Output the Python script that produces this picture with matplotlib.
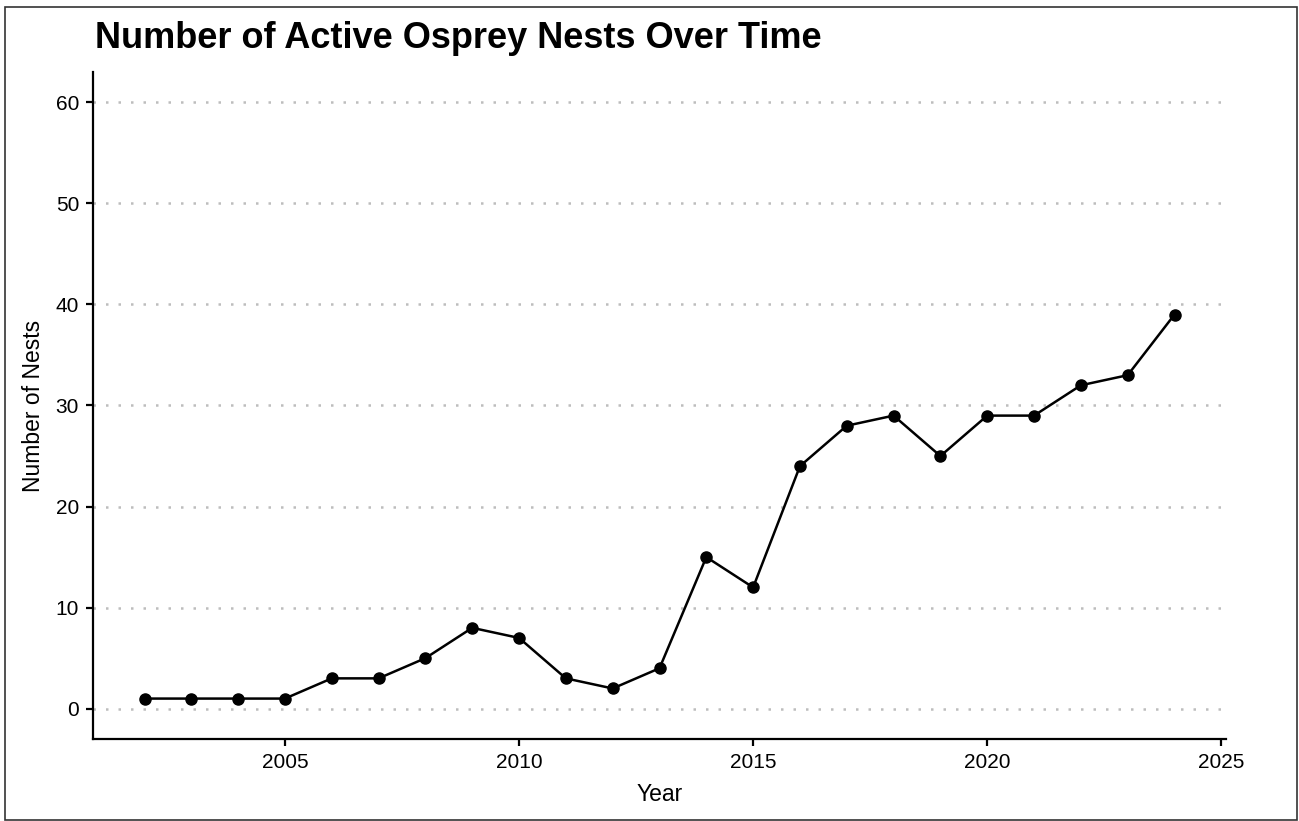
import matplotlib
matplotlib.use('Agg')
import matplotlib.pyplot as plt
from matplotlib.patches import Rectangle

# data
years = [2002, 2003, 2004, 2005, 2006, 2007, 2008, 2009, 2010, 2011, 2012, 2013,
         2014, 2015, 2016, 2017, 2018, 2019, 2020, 2021, 2022, 2023, 2024]
nests = [1, 1, 1, 1, 3, 3, 5, 8, 7, 3, 2, 4,
         15, 12, 24, 28, 29, 25, 29, 29, 32, 33, 39]
yticks = [0, 10, 20, 30, 40, 50, 60]
xticks = [2005, 2010, 2015, 2020, 2025]

plt.rcParams['font.family'] = ['Liberation Sans', 'DejaVu Sans']

fig = plt.figure(figsize=(12.99, 8.21), dpi=100)
ax = fig.add_axes([93 / 1299, 1 - 739 / 821, (1226 - 93) / 1299, (739 - 72) / 821])

# grid (horizontal, dotted)
for y in yticks:
    ax.axhline(y, color='#bdbdbd', linewidth=1.8, linestyle=(0, (1, 4)), zorder=0)

ax.plot(years, nests, color='black', linewidth=1.8, marker='o', markersize=8, zorder=3)

ax.set_xlim(2000.9, 2025.1)
ax.set_ylim(-3, 63)
ax.set_xticks(xticks)
ax.set_yticks(yticks)
ax.tick_params(axis='both', labelsize=15, colors='black', length=5, width=1.6,
               direction='out', pad=5)
for s in ['top', 'right']:
    ax.spines[s].set_visible(False)
for s in ['left', 'bottom']:
    ax.spines[s].set_linewidth(1.6)

ax.set_xlabel('Year', fontsize=16.5, labelpad=8)
ax.set_ylabel('Number of Nests', fontsize=16.5, labelpad=8)

fig.text(95 / 1299, 1 - 39 / 821, 'Number of Active Osprey Nests Over Time',
         fontsize=26, fontweight='bold', ha='left', va='center')

# thin frame around the whole image
fig.patches.append(Rectangle((5 / 1299, 1 - 820 / 821), (1297 - 5) / 1299, (820 - 7) / 821,
                             transform=fig.transFigure, fill=False,
                             edgecolor='#333333', linewidth=1.2))

fig.savefig('out.png', dpi=100)
